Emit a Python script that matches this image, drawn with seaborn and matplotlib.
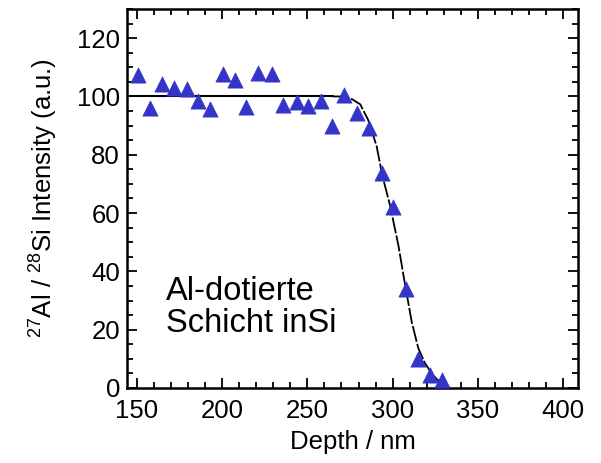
import matplotlib
matplotlib.use("Agg")
import matplotlib.pyplot as plt
from matplotlib.ticker import MultipleLocator
import seaborn as sns
import pandas as pd

# Measured Al/Si intensity profile
depth_nm = [150.8, 157.6, 164.9, 171.7, 179.2, 186.0, 192.8, 200.6, 207.5, 213.8,
            221.2, 229.0, 235.9, 243.7, 250.5, 257.8, 264.6, 271.5, 278.9, 286.1,
            293.6, 300.4, 307.7, 315.1, 322.0, 329.2]
intensity = [107.5, 96.1, 104.3, 103.0, 102.6, 98.4, 95.8, 107.7, 105.5, 96.5,
             108.0, 107.8, 96.9, 98.0, 96.7, 98.6, 89.9, 100.4, 94.2, 89.3,
             73.7, 62.0, 34.1, 9.9, 4.3, 2.8]

# Fitted profile: plateau, then the falling edge
plateau_depth = [144.1, 265.0]
plateau_level = [100.0, 100.0]
edge_depth = [265.0, 270.0, 275.0, 281.0, 285.6, 290.6, 294.0, 298.5, 303.4,
              306.7, 311.2, 315.1, 319.0, 323.0, 326.0, 329.0]
edge_level = [100.0, 100.0, 99.5, 97.3, 92.0, 83.0, 72.8, 62.6, 48.9,
              37.5, 22.7, 13.6, 8.5, 5.0, 3.0, 1.5]

sns.set_style("ticks")
plt.rcParams["font.family"] = ["Liberation Sans", "DejaVu Sans"]
plt.rcParams["mathtext.fontset"] = "custom"
plt.rcParams["mathtext.rm"] = "Liberation Sans"
plt.rcParams["mathtext.default"] = "regular"
plt.rcParams["text.color"] = "black"
plt.rcParams["axes.labelcolor"] = "black"
plt.rcParams["xtick.color"] = "black"
plt.rcParams["ytick.color"] = "black"

fig = plt.figure(figsize=(6.01, 4.63), dpi=100)
ax = fig.add_axes([0.2113, 0.162, 0.7504, 0.8186])

points = pd.DataFrame({"Depth": depth_nm, "Intensity": intensity})
plateau = pd.DataFrame({"Depth": plateau_depth, "Intensity": plateau_level})
edge = pd.DataFrame({"Depth": edge_depth, "Intensity": edge_level})

sns.lineplot(data=plateau, x="Depth", y="Intensity", ax=ax, color="black",
             linewidth=1.5, sort=False, zorder=2)
sns.lineplot(data=edge, x="Depth", y="Intensity", ax=ax, color="black",
             linewidth=1.3, linestyle=(0, (9, 1.2)), sort=False, zorder=2)
sns.scatterplot(data=points, x="Depth", y="Intensity", ax=ax, marker="^",
                s=120, color="#3434c8", edgecolor="#3434c8", linewidth=0.5,
                zorder=3)

ax.set_xlim(144.1, 408.8)
ax.set_ylim(0, 130)
ax.xaxis.set_major_locator(MultipleLocator(50))
ax.xaxis.set_minor_locator(MultipleLocator(10))
ax.yaxis.set_major_locator(MultipleLocator(20))
ax.yaxis.set_minor_locator(MultipleLocator(5))
ax.tick_params(which="both", direction="in", top=True, right=True,
               labelsize=18.5, width=1.3, colors="black")
ax.tick_params(which="major", length=7)
ax.tick_params(axis="x", which="major", pad=8)
ax.tick_params(axis="y", which="major", pad=5)
ax.tick_params(which="minor", length=4)
for sp in ax.spines.values():
    sp.set_linewidth(1.8)
    sp.set_color("black")

ax.set_xlabel("Depth / nm", fontsize=18.5, labelpad=5)
ax.set_ylabel(r"$^{27}$Al / $^{28}$Si Intensity (a.u.)", fontsize=18.5,
              labelpad=12)

ax.text(167.0, 27.6, "Al-dotierte\nSchicht inSi", fontsize=23.5, ha="left",
        va="center", linespacing=1.05, transform=ax.transData)

fig.savefig("out.png", dpi=100)
